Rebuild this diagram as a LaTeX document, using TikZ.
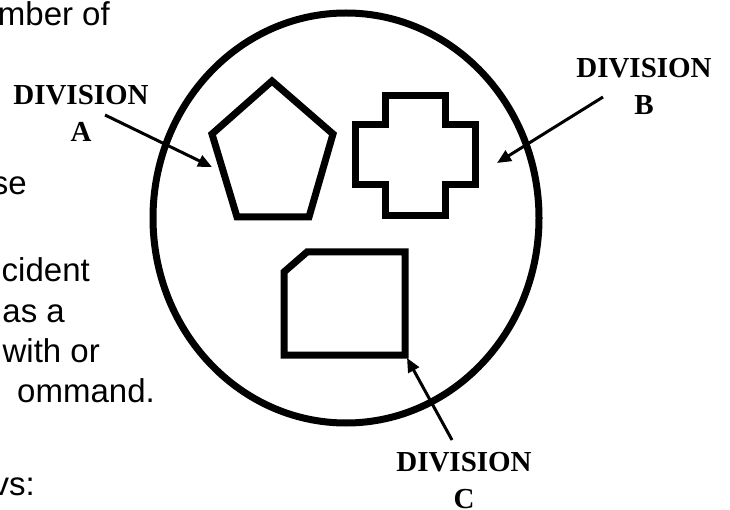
\documentclass[tikz,border=0pt]{standalone}
\usepackage{fontspec}
\setmainfont{Liberation Serif}
\setsansfont{Liberation Sans}
\usetikzlibrary{arrows.meta}

\begin{document}
\begin{tikzpicture}[
  x=1pt, y=-1pt,
  lbl/.style={font=\fontsize{29}{37}\selectfont\bfseries, align=center, inner sep=0pt, anchor=base},
  txt/.style={font=\fontsize{33}{40}\selectfont\sffamily, anchor=base east, inner sep=0pt},
  shp/.style={line width=7pt},
  arr/.style={-{Triangle[length=14pt,width=12pt]}, line width=3pt}
]
\useasboundingbox (0,0) rectangle (730,510);

\node[txt] (t1) at (110,26) {mber of};
\node[txt] (t2) at (27,195) {se};
\node[txt] (t3) at (90,282) {cident};
\node[txt] (t4) at (65,322) {as a};
\node[txt] (t5) at (100,362) {with or};
\node[txt] (t6) at (155,402) {ommand.};
\node[txt] (t7) at (35,495) {vs:};

\draw[shp] (346,218) ellipse [x radius=193, y radius=205];
\draw[shp] (272,81) -- (333,134) -- (309,217) -- (237,217) -- (212,134) -- cycle;
\draw[shp] (385,96) -- (445,96) -- (445,125) -- (475,125) -- (475,185) -- (445,185)
  -- (445,216) -- (385,216) -- (385,185) -- (355,185) -- (355,125) -- (385,125) -- cycle;
\draw[shp] (284,272) -- (307,252) -- (405,252) -- (405,355) -- (284,355) -- cycle;

\node[lbl] (divA) at (81,142) {DIVISION\\A};
\node[lbl] (divB) at (644,115) {DIVISION\\B};
\node[lbl] (divC) at (464,508) {DIVISION\\C};

\coordinate (a0) at (105,115);
\coordinate (a1) at (212,167);
\coordinate (b0) at (603,97);
\coordinate (b1) at (497,163);
\coordinate (c0) at (452,440);
\coordinate (c1) at (407,358);
\draw[arr] (a0) -- (a1);
\draw[arr] (b0) -- (b1);
\draw[arr] (c0) -- (c1);
\end{tikzpicture}
\end{document}
